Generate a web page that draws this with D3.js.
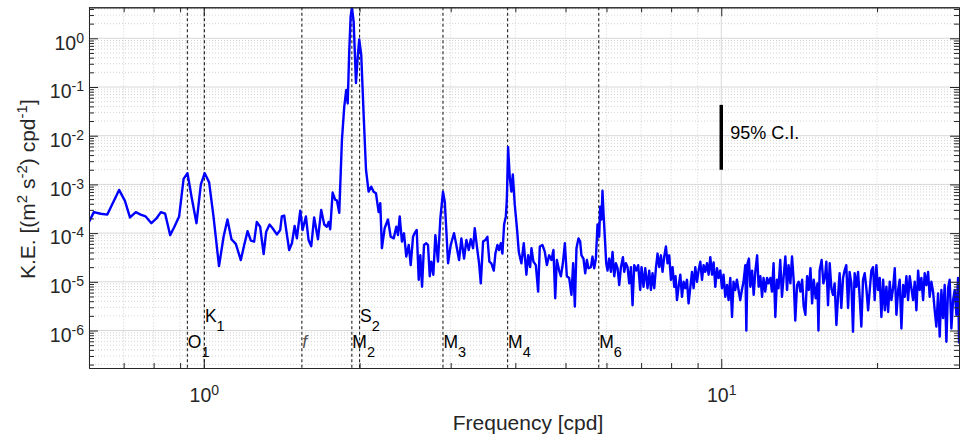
<!DOCTYPE html>
<html lang="en">
<head>
<meta charset="utf-8">
<title>K.E. spectrum</title>
<script src="https://d3js.org/d3.v7.min.js"></script>
<style>
  body { margin: 0; background: #ffffff; }
  svg text { font-family: "Liberation Sans", Arial, Helvetica, sans-serif; }
</style>
</head>
<body>
<div id="chart"></div>
<script>

// spectrum: frequency [cpd] and K.E. density
var freq = [0.6,0.613,0.632,0.651,0.686,0.704,0.72,0.739,0.755,0.772,0.792,0.81,0.826,0.842,0.861,0.876,0.896,0.914,0.93,0.948,
  0.968,0.987,1.004,1.024,1.044,1.07,1.092,1.111,1.131,1.153,1.179,1.197,1.215,1.233,1.251,1.266,1.285,1.305,1.32,1.34,
  1.358,1.384,1.405,1.415,1.43,1.443,1.462,1.48,1.498,1.513,1.536,1.552,1.575,1.594,1.613,1.634,1.662,1.686,1.709,1.729,
  1.743,1.755,1.774,1.795,1.808,1.827,1.849,1.868,1.885,1.897,1.91,1.922,1.933,1.948,1.968,1.986,1.997,2.015,2.037,2.058,
  2.082,2.107,2.129,2.151,2.177,2.193,2.209,2.236,2.269,2.297,2.328,2.355,2.373,2.391,2.415,2.437,2.462,2.489,2.511,2.537,
  2.556,2.579,2.602,2.621,2.641,2.664,2.691,2.712,2.733,2.752,2.777,2.802,2.835,2.865,2.899,2.922,2.942,2.965,3.0,3.045,
  3.076,3.114,3.146,3.184,3.217,3.251,3.28,3.314,3.339,3.374,3.404,3.43,3.465,3.5,3.532,3.563,3.595,3.634,3.66,3.693,
  3.721,3.749,3.776,3.805,3.834,3.851,3.873,3.902,3.93,3.955,3.99,4.031,4.062,4.109,4.153,4.201,4.234,4.272,4.297,4.335,
  4.382,4.427,4.46,4.512,4.561,4.602,4.649,4.697,4.739,4.776,4.811,4.861,4.898,4.942,4.986,5.03,5.082,5.134,5.173,5.213,
  5.25,5.297,5.337,5.368,5.416,5.458,5.499,5.539,5.598,5.638,5.681,5.724,5.765,5.808,5.835,5.868,5.894,5.921,5.958,5.993,
  6.028,6.074,6.12,6.164,6.211,6.258,6.303,6.351,6.399,6.456,6.494,6.543,6.59,6.64,6.69,6.738,6.789,6.849,6.91,6.972,
  7.013,7.075,7.129,7.203,7.257,7.312,7.365,7.421,7.477,7.531,7.589,7.645,7.7,7.758,7.817,7.874,7.933,7.994,8.051,8.112,
  8.16,8.211,8.27,8.333,8.396,8.456,8.52,8.585,8.646,8.711,8.778,8.841,8.908,8.976,9.04,9.109,9.178,9.243,9.313,9.384,
  9.452,9.523,9.596,9.664,9.738,9.812,9.882,9.957,10.03,10.1,10.18,10.26,10.33,10.41,10.49,10.56,10.64,10.72,10.8,10.88,
  10.96,11.04,11.13,11.18,11.24,11.31,11.38,11.47,11.55,11.64,11.73,11.81,11.9,11.99,12.07,12.16,12.26,12.34,12.44,12.53,
  12.62,12.72,12.81,12.9,13.0,13.1,13.2,13.3,13.4,13.49,13.6,13.7,13.8,13.9,14.01,14.11,14.22,14.33,14.43,14.54,
  14.65,14.76,14.87,14.98,15.09,15.22,15.34,15.41,15.49,15.63,15.75,15.87,15.96,16.08,16.2,16.32,16.44,16.56,16.69,16.81,
  16.93,17.06,17.19,17.31,17.44,17.58,17.7,17.84,17.97,18.1,18.24,18.38,18.51,18.65,18.79,18.93,19.07,19.22,19.36,19.5,
  19.65,19.79,19.94,20.09,20.24,20.39,20.55,20.7,20.85,21.01,21.16,21.32,21.48,21.64,21.8,21.97,22.12,22.29,22.46,22.62,
  22.79,22.96,23.13,23.3,23.48,23.65,23.83,24.01,24.18,24.36,24.55,24.72,24.91,25.1,25.28,25.47,25.66,25.85,26.04,26.24,
  26.43,26.63,26.83,27.02,27.23,27.43,27.63,27.84,28.05,28.26,28.47,28.68,28.81];

var ke = [1.7e-4,2.7e-4,2.5e-4,2.4e-4,7.7e-4,4.6e-4,2.1e-4,2.7e-4,2.4e-4,2.2e-4,1.6e-4,2.0e-4,2.7e-4,2.5e-4,9.1e-5,1.3e-4,2.2e-4,1.3e-3,1.7e-3,5.2e-4,
  1.6e-4,1.0e-3,1.7e-3,1.1e-3,2.2e-4,2.1e-5,8.4e-5,1.9e-4,7.5e-5,6.0e-5,2.8e-5,5.7e-5,1.1e-4,7.0e-5,6.7e-5,1.7e-4,1.35e-4,3.7e-5,1.07e-4,1.5e-4,
  1.26e-4,9.4e-5,1.16e-4,2.2e-4,2.3e-4,1.16e-4,4.5e-5,6.2e-5,1.4e-4,7.8e-5,2.9e-4,1.16e-4,2.2e-4,7.2e-5,5.4e-5,2.1e-4,7.5e-5,3.0e-4,1.5e-4,1.35e-4,
  1.7e-4,1.2e-4,6.8e-4,4.8e-4,4.7e-4,2.6e-4,8.2e-3,3.9e-2,8.7e-2,4.6e-2,0.53,2.8,4.33,2.2,0.12,0.49,0.95,0.45,2.5e-2,2.0e-3,
  7.1e-4,9.0e-4,7.1e-4,6.6e-4,2.7e-4,4.1e-4,4.9e-5,1.26e-4,1.9e-4,8.4e-5,7.8e-5,1.35e-4,9.1e-5,2.2e-4,6.7e-5,9.9e-5,3.3e-5,5.7e-5,2.2e-5,8.4e-5,
  1.0e-4,1.16e-4,1.1e-5,3.5e-5,7.9e-6,5.7e-5,6.2e-5,5.7e-5,1.3e-5,2.6e-5,1.4e-5,9.1e-5,2.6e-5,2.0e-4,7.1e-4,4.4e-4,1.16e-4,2.4e-5,5.7e-5,1.0e-4,
  5.7e-5,2.8e-5,7.8e-5,3.0e-5,7.2e-5,4.5e-5,7.5e-5,4.9e-5,1.26e-4,4.9e-5,2.4e-5,9.3e-6,6.7e-5,7.2e-5,8.4e-5,2.6e-5,2.4e-5,1.7e-5,3.8e-5,5.7e-5,
  4.5e-5,6.2e-5,3.8e-5,1.5e-4,2.2e-4,4.8e-4,5.8e-3,1.4e-3,7.1e-4,1.6e-3,3.8e-4,1.16e-4,4.1e-5,2.4e-5,6.2e-5,1.4e-5,3.5e-5,2.0e-5,4.9e-5,2.6e-5,
  2.2e-5,6.3e-6,5.3e-5,5.7e-5,4.1e-5,2.2e-5,3.5e-5,2.8e-5,4.5e-5,4.6e-6,2.8e-5,1.7e-5,1.3e-5,2.4e-5,6.2e-5,1.3e-5,1.2e-5,5.4e-6,2.4e-5,3.1e-6,
  4.9e-5,7.8e-5,6.7e-5,3.5e-5,3.0e-5,1.5e-5,2.8e-5,1.9e-5,2.0e-5,3.3e-5,1.9e-5,3.0e-5,1.5e-4,8.4e-5,3.5e-4,1.9e-4,7.4e-4,2.6e-4,7.8e-5,2.4e-5,
  1.7e-5,3.0e-5,1.6e-5,4.1e-5,1.3e-5,2.4e-5,1.9e-5,8.6e-6,2.0e-5,3.2e-5,1.6e-5,2.4e-5,2.0e-5,9.3e-6,2.0e-5,3.3e-6,2.2e-5,1.7e-5,2.2e-5,6.8e-6,
  2.0e-5,7.9e-6,1.9e-5,7.4e-6,1.7e-5,6.8e-6,1.5e-5,7.4e-6,1.9e-5,3.8e-5,2.0e-5,3.5e-5,1.6e-5,3.3e-5,5.3e-5,2.4e-5,3.5e-5,1.1e-5,2.0e-5,7.9e-6,
  1.3e-5,4.2e-6,7.9e-6,1.4e-5,4.9e-6,1.0e-5,7.4e-6,1.1e-5,3.6e-6,7.4e-6,1.6e-5,7.4e-6,2.0e-5,1.0e-5,1.7e-5,2.6e-5,1.1e-5,2.2e-5,1.6e-5,2.4e-5,
  1.4e-5,3.2e-5,1.4e-5,2.5e-5,7.9e-6,1.9e-5,1.2e-5,1.7e-5,7.4e-6,1.4e-5,4.9e-6,8.6e-6,4.2e-6,1.2e-5,1.9e-6,1.0e-5,6.8e-6,1.1e-5,6.8e-6,4.2e-6,
  6.8e-6,1.0e-5,2.2e-5,1.0e-6,2.4e-5,3.0e-5,7.9e-6,1.7e-5,5.4e-6,1.7e-5,3.5e-5,7.9e-6,1.3e-5,4.9e-6,1.2e-5,6.3e-6,1.2e-5,9.3e-6,1.2e-5,6.3e-6,
  2.4e-5,1.9e-6,1.1e-5,7.4e-6,2.8e-5,4.9e-6,1.3e-5,3.3e-5,6.8e-6,2.2e-5,9.3e-6,3.3e-5,1.1e-5,1.6e-6,8.6e-6,1.0e-5,6.3e-6,1.1e-5,3.1e-6,2.1e-6,
  1.3e-5,6.8e-6,1.9e-5,3.6e-6,1.1e-5,4.6e-6,9.3e-6,1.0e-6,1.7e-5,2.8e-5,9.3e-6,1.3e-5,2.6e-5,3.3e-6,2.4e-5,7.4e-6,5.4e-6,9.3e-6,1.3e-6,4.9e-6,
  1.5e-5,2.9e-6,1.2e-5,1.7e-5,2.2e-5,2.9e-6,1.6e-5,9.3e-6,9.4e-7,1.5e-5,7.9e-6,1.6e-5,4.9e-6,1.2e-6,1.1e-5,1.5e-5,7.4e-6,2.6e-6,6.8e-6,1.7e-5,
  2.0e-5,4.2e-6,2.2e-5,6.8e-6,1.2e-5,1.9e-6,1.1e-5,2.6e-6,7.9e-6,2.4e-6,1.0e-5,4.2e-6,7.4e-6,1.9e-5,2.1e-6,6.8e-6,1.1e-5,1.1e-6,8.6e-6,4.9e-6,
  1.3e-5,4.2e-6,1.3e-5,7.4e-6,4.2e-6,1.0e-5,2.6e-6,1.7e-5,6.8e-6,1.2e-5,4.2e-6,1.5e-5,8.6e-6,1.6e-5,4.9e-6,1.0e-5,6.3e-6,2.6e-6,1.2e-6,5.8e-6,
  7.5e-7,6.8e-6,1.8e-6,8.6e-6,5.9e-7,7.4e-6,1.1e-5,1.1e-6,4.2e-6,6.8e-6,2.1e-6,1.2e-5,5.4e-7];

// tidal constituents + inertial frequency f
var tideNames = ["O1", "K1", "f", "M2", "S2", "M3", "M4", "M6"];
var tideFreq = [0.9295, 1.0027, 1.547, 1.9323, 2.0, 2.8984, 3.8645, 5.7968];

// 95% confidence interval bar
var ciFreq = [10];
var ciRange = [0.002, 0.043];

var xTicks = [1, 10];
var yTicks = [1e-6, 1e-5, 1e-4, 1e-3, 1e-2, 1e-1, 1];

var margin = {top: 7.3, right: 1, bottom: 68, left: 89},
    width = 960 - margin.left - margin.right,
    height = 436 - margin.top - margin.bottom;

var svg = d3.select("#chart")
  .append("svg")
    .attr("width", 960)
    .attr("height", 436)
  .append("g")
    .attr("transform", "translate(" + margin.left + "," + margin.top + ")");

var x = d3.scaleLog().domain([0.6, 28.8]).range([0, width]);
var y = d3.scaleLog().domain([1.7e-7, d3.max(ke)]).range([height, 0]);

// minor tick positions (2..9 in each decade)
function minors(scale) {
  var d = scale.domain(), out = [];
  for (var e = -8; e <= 2; e++) {
    for (var k = 2; k <= 9; k++) {
      var v = k * Math.pow(10, e);
      if (v > d[0] && v < d[1]) out.push(v);
    }
  }
  return out;
}
var xMinor = minors(x), yMinor = minors(y);
var yMajorAll = yTicks.concat([1e-7]).filter(function(v) { return v >= y.domain()[0]; });

// grid
var grid = svg.append("g");
grid.selectAll(".gxm").data(xMinor).join("line")
  .attr("x1", function(d) { return x(d); }).attr("x2", function(d) { return x(d); })
  .attr("y1", 0).attr("y2", height)
  .attr("stroke", "#c8c8c8").attr("stroke-width", 0.8).attr("stroke-dasharray", "1,2");
grid.selectAll(".gym").data(yMinor).join("line")
  .attr("y1", function(d) { return y(d); }).attr("y2", function(d) { return y(d); })
  .attr("x1", 0).attr("x2", width)
  .attr("stroke", "#c8c8c8").attr("stroke-width", 0.8).attr("stroke-dasharray", "1,2");
grid.selectAll(".gx").data(xTicks).join("line")
  .attr("x1", function(d) { return x(d); }).attr("x2", function(d) { return x(d); })
  .attr("y1", 0).attr("y2", height)
  .attr("stroke", "#d8d8d8").attr("stroke-width", 1);
grid.selectAll(".gy").data(yMajorAll).join("line")
  .attr("y1", function(d) { return y(d); }).attr("y2", function(d) { return y(d); })
  .attr("x1", 0).attr("x2", width)
  .attr("stroke", "#d8d8d8").attr("stroke-width", 1);

// tidal lines
svg.append("g").selectAll("line").data(tideFreq).join("line")
  .attr("x1", function(d) { return x(d); }).attr("x2", function(d) { return x(d); })
  .attr("y1", 0).attr("y2", height)
  .attr("stroke", "#222").attr("stroke-width", 1.1).attr("stroke-dasharray", "3,2.5");

// spectrum
svg.append("clipPath").attr("id", "clip")
  .append("rect").attr("width", width).attr("height", height);

var line = d3.line()
  .x(function(d, i) { return x(freq[i]); })
  .y(function(d) { return y(d); });

svg.append("path")
  .datum(ke)
  .attr("clip-path", "url(#clip)")
  .attr("fill", "none")
  .attr("stroke", "#0000ff")
  .attr("stroke-width", 2.4)
  .attr("stroke-linejoin", "round")
  .attr("d", line);

// 95% C.I.
svg.append("line")
  .attr("x1", x(ciFreq[0])).attr("x2", x(ciFreq[0]))
  .attr("y1", y(ciRange[1])).attr("y2", y(ciRange[0]))
  .attr("stroke", "#000").attr("stroke-width", 3.5);
svg.append("text")
  .attr("x", x(ciFreq[0]) + 9)
  .attr("y", (y(ciRange[0]) + y(ciRange[1])) / 2 + 2)
  .attr("font-size", 18).attr("fill", "#000")
  .text("95% C.I.");

// tidal labels (K1, S2 sit one row higher)
var raised = {"K1": true, "S2": true};
tideNames.forEach(function(name, i) {
  var t = svg.append("text")
    .attr("x", x(tideFreq[i]) + 0.5)
    .attr("y", raised[name] ? height - 46 : height - 20)
    .attr("font-size", 17.5).attr("fill", "#000");
  if (name === "f") {
    t.attr("font-style", "italic").attr("fill", "#555").text("f");
  } else {
    t.text(name.charAt(0));
    t.append("tspan").attr("dy", 9).attr("font-size", 14.5).text(name.slice(1));
  }
});

// axes, ticks pointing inward like the original
function expLabels(g) {
  g.selectAll(".tick text").each(function(d) {
    var t = d3.select(this);
    t.text("10");
    t.append("tspan").attr("dy", "-0.5em").attr("font-size", "0.72em")
      .text(Math.round(Math.log10(d)));
  });
}
function styleAxis(g) {
  g.selectAll("path,line").attr("stroke", "#262626");
  g.selectAll("text").attr("fill", "#262626").attr("font-size", 19.5)
    .attr("font-family", "Liberation Sans, Arial, sans-serif");
  g.attr("font-family", null).attr("font-size", null);
}

var xb = svg.append("g").attr("transform", "translate(0," + height + ")")
  .call(d3.axisBottom(x).tickValues(xTicks).tickSize(-9).tickSizeOuter(0).tickPadding(20));
expLabels(xb); styleAxis(xb);
svg.append("g").attr("transform", "translate(0," + height + ")")
  .call(d3.axisBottom(x).tickValues(xMinor).tickSize(-5).tickSizeOuter(0).tickFormat(""))
  .call(styleAxis);
svg.append("g")
  .call(d3.axisTop(x).tickValues(xTicks).tickSize(-9).tickSizeOuter(0).tickFormat(""))
  .call(styleAxis);
svg.append("g")
  .call(d3.axisTop(x).tickValues(xMinor).tickSize(-5).tickSizeOuter(0).tickFormat(""))
  .call(styleAxis);

var yl = svg.append("g")
  .call(d3.axisLeft(y).tickValues(yTicks).tickSize(-9).tickSizeOuter(0).tickPadding(5));
expLabels(yl); styleAxis(yl);
yl.selectAll(".tick text").attr("dy", "0.55em");
svg.append("g")
  .call(d3.axisLeft(y).tickValues(yMinor).tickSize(-5).tickSizeOuter(0).tickFormat(""))
  .call(styleAxis);
svg.append("g").attr("transform", "translate(" + width + ",0)")
  .call(d3.axisRight(y).tickValues(yTicks).tickSize(-9).tickSizeOuter(0).tickFormat(""))
  .call(styleAxis);
svg.append("g").attr("transform", "translate(" + width + ",0)")
  .call(d3.axisRight(y).tickValues(yMinor).tickSize(-5).tickSizeOuter(0).tickFormat(""))
  .call(styleAxis);

// axis labels
svg.append("text")
  .attr("x", width / 2 + 4)
  .attr("y", height + 62)
  .attr("text-anchor", "middle")
  .attr("font-size", 21).attr("fill", "#262626")
  .text("Frequency [cpd]");

var ylab = svg.append("text")
  .attr("transform", "translate(" + (35 - margin.left) + "," + (height / 2 + 1.5) + ") rotate(-90)")
  .attr("text-anchor", "middle")
  .attr("font-size", 21).attr("fill", "#262626");
ylab.append("tspan").text("K.E. [(m");
ylab.append("tspan").attr("dy", -8).attr("font-size", 15).text("2");
ylab.append("tspan").attr("dy", 8).text(" s");
ylab.append("tspan").attr("dy", -8).attr("font-size", 15).text("-2");
ylab.append("tspan").attr("dy", 8).text(") cpd");
ylab.append("tspan").attr("dy", -8).attr("font-size", 15).text("-1");
ylab.append("tspan").attr("dy", 8).text("]");

</script>
</body>
</html>
